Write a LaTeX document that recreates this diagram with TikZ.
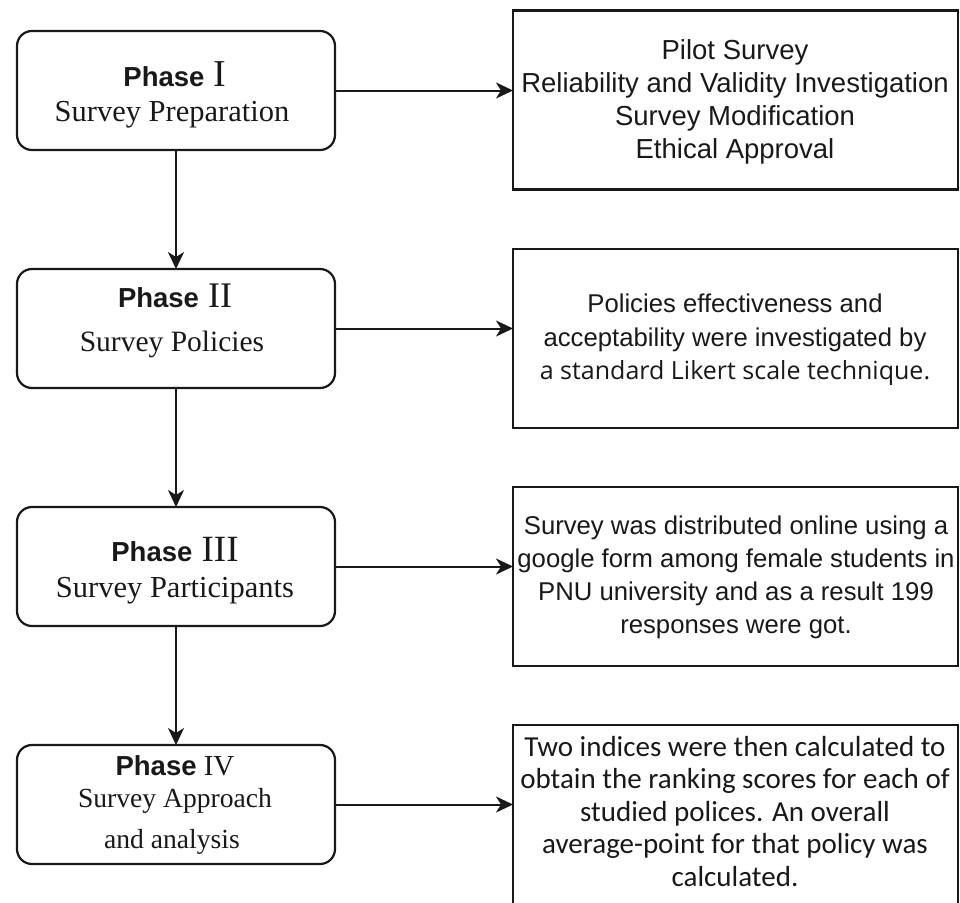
\documentclass[tikz,border=0pt]{standalone}
\usepackage{fontspec}
\setmainfont{Liberation Serif}
\newfontfamily\arialf{Liberation Sans}
\newfontfamily\calibrif{Carlito}
\newfontfamily\opensansf{Open Sans}
\usetikzlibrary{arrows.meta}
\newcommand\phaselbl[2]{{\arialf\bfseries\fontsize{27.5}{32}\selectfont Phase}{\fontsize{#2}{#2}\selectfont\ #1}}
\begin{document}
\begin{tikzpicture}[x=1pt,y=-1pt,
 phasebox/.style={draw=black!90, line width=2.2pt, rounded corners=15pt, minimum width=318pt, minimum height=119pt, inner sep=0pt, outer sep=0pt},
 infobox/.style={draw=black!90, line width=2.2pt, minimum width=445pt, minimum height=179pt, inner sep=0pt, outer sep=0pt},
 arr/.style={draw=black!90, line width=2pt, -{Stealth[length=17pt,width=16pt,inset=5pt]}},
 lbl/.style={anchor=base, inner sep=0pt, text=black!90},
 infotext/.style={align=center, inner sep=0pt, text=black!90},
]
\path[use as bounding box, clip] (0,0) rectangle (960,902);
\fill[white] (0,0) rectangle (960,902);

% left phase boxes
\node[phasebox] (b1) at (176,90.5) {};
\node[phasebox] (b2) at (176,328.5) {};
\node[phasebox] (b3) at (176,566.5) {};
\node[phasebox] (b4) at (176,804.5) {};

% right info boxes
\node[infobox] (r1) at (735.5,100) {};
\node[infobox] (r2) at (735.5,338.5) {};
\node[infobox] (r3) at (735.5,576.5) {};
\node[infobox] (r4) at (735.5,814.5) {};

% left labels
\node[lbl] (p1) at (175,86) {\phaselbl{I}{38}};
\node[lbl, font=\fontsize{30.5}{34}\selectfont] (s1) at (172,121.7) {Survey Preparation};
\node[lbl] (p2) at (175,307) {\phaselbl{II}{36}};
\node[lbl, font=\fontsize{29.5}{34}\selectfont] (s2) at (172,351) {Survey Policies};
\node[lbl] (p3) at (175,561) {\phaselbl{III}{37}};
\node[lbl, font=\fontsize{30.5}{34}\selectfont] (s3) at (175,597) {Survey Participants};
\node[lbl] (p4) at (175,775) {\phaselbl{IV}{29}};
\node[lbl, font=\fontsize{27.6}{32}\selectfont] (s4) at (175,807) {Survey Approach};
\node[lbl, font=\fontsize{27.6}{32}\selectfont] (s5) at (172,848) {and analysis};

% right texts
\node[infotext, font=\arialf\fontsize{27.5}{32.7}\selectfont] (t1) at (735,101.9)
 {Pilot Survey\\Reliability and Validity Investigation\\Survey Modification\\Ethical Approval};
\node[infotext, font=\arialf\fontsize{25.7}{33.5}\selectfont] (t2) at (735,340.1)
 {Policies effectiveness and\\acceptability were investigated by\\{\opensansf\fontsize{25}{33.5}\selectfont a standard Likert scale technique.}};
\node[infotext, font=\arialf\fontsize{25.7}{33}\selectfont] (t3) at (736,577.8)
 {Survey was distributed online using a\\google form among female students in\\PNU university and as a result 199\\responses were got.};
\node[infotext, font=\calibrif\fontsize{29}{32.5}\selectfont] (t4) at (735,811.5)
 {Two indices were then calculated to\\obtain the ranking scores for each of\\studied polices. An overall\\average-point for that policy was\\calculated.};

% connectors
\draw[arr] (b1.east) -- (b1.east -| r1.west);
\draw[arr] (b2.east) -- (b2.east -| r2.west);
\draw[arr] (b3.east) -- (b3.east -| r3.west);
\draw[arr] (b4.east) -- (b4.east -| r4.west);
\draw[arr] (b1.south) -- (b2.north);
\draw[arr] (b2.south) -- (b3.north);
\draw[arr] (b3.south) -- (b4.north);
\end{tikzpicture}
\end{document}
